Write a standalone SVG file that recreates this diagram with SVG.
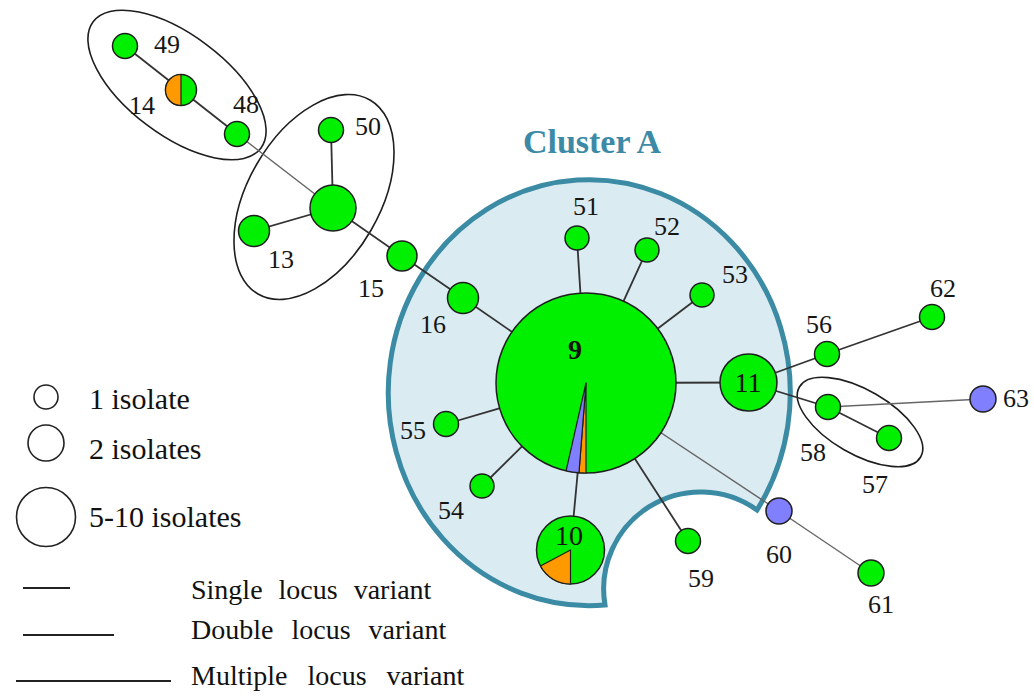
<svg xmlns="http://www.w3.org/2000/svg" width="1034" height="696" viewBox="0 0 1034 696" font-family="'Liberation Serif', serif">
  <style>
    .lbl { font-size: 26px; fill: #161616; }
    .big { font-size: 28px; fill: #111; }
    .leg { fill: #111; }
    .g { fill: #00f000; stroke: #1e1e1e; stroke-width: 1.5; }
    .p { fill: #8080ff; stroke: #1e1e1e; stroke-width: 1.5; }
    .o { fill: #ff9900; stroke: #1e1e1e; stroke-width: 1.2; stroke-linejoin: round; }
    .v { fill: #8080ff; stroke: #1e1e1e; stroke-width: 1.2; stroke-linejoin: round; }
    .e { fill: none; stroke: #1e1e1e; stroke-width: 1.6; }
    .c { stroke: #333; stroke-width: 1.8; fill: none; }
    .t { stroke: #666; stroke-width: 1.4; fill: none; }
    .key { fill: #fff; stroke: #222; stroke-width: 1.6; }
  </style>

  <!-- cluster A background -->
  <g id="clusterA">
    <path d="M605 605 A201 213 0 1 1 757 510 A97 97 0 0 0 605 605 Z" fill="#daebf2" stroke="#3b8ba4" stroke-width="5" stroke-linejoin="miter"/>
    <text x="592" y="153" text-anchor="middle" font-weight="bold" font-size="34" fill="#3d8aa6">Cluster A</text>
  </g>

  <!-- grouping ellipses -->
  <g id="groups">
    <ellipse class="e" cx="177" cy="85" rx="105" ry="50" transform="rotate(37 177 85)"/>
    <ellipse class="e" cx="314" cy="197" rx="112" ry="66" transform="rotate(-60 314 197)"/>
    <ellipse class="e" cx="860" cy="422" rx="70" ry="32" transform="rotate(30 860 422)"/>
  </g>

  <!-- connectors -->
  <g id="connectors">
    <line class="c" x1="125" y1="46" x2="181" y2="90"/>
    <line class="c" x1="181" y1="90" x2="237" y2="134"/>
    <line class="t" x1="237" y1="134" x2="333" y2="208"/>
    <line class="c" x1="333" y1="208" x2="331" y2="130"/>
    <line class="c" x1="333" y1="208" x2="254" y2="231"/>
    <line class="c" x1="333" y1="208" x2="402" y2="256"/>
    <line class="c" x1="402" y1="256" x2="463" y2="298"/>
    <line class="c" x1="463" y1="298" x2="586" y2="383"/>
    <line class="c" x1="586" y1="383" x2="577" y2="238"/>
    <line class="c" x1="586" y1="383" x2="647" y2="250"/>
    <line class="c" x1="586" y1="383" x2="702" y2="295"/>
    <line class="c" x1="586" y1="383" x2="446" y2="424"/>
    <line class="c" x1="586" y1="383" x2="482" y2="486"/>
    <line class="c" x1="586" y1="383" x2="570.5" y2="550"/>
    <line class="c" x1="586" y1="383" x2="688" y2="541"/>
    <line class="c" x1="586" y1="383" x2="748.5" y2="382.5"/>
    <line class="t" x1="586" y1="383" x2="779" y2="511"/>
    <line class="c" x1="748.5" y1="382.5" x2="827" y2="354"/>
    <line class="c" x1="748.5" y1="382.5" x2="828" y2="407"/>
    <line class="c" x1="827" y1="354" x2="932" y2="317"/>
    <line class="c" x1="828" y1="407" x2="889" y2="438"/>
    <line class="t" x1="828" y1="407" x2="983" y2="399"/>
    <line class="t" x1="779" y1="511" x2="871" y2="573"/>
  </g>

  <!-- nodes -->
  <g id="n49"><circle class="g" cx="125" cy="46" r="12.5"/><text class="lbl" x="154" y="53">49</text></g>
  <g id="n14">
    <circle class="g" cx="181" cy="90" r="15.5"/>
    <path class="o" d="M181 74.5 A15.5 15.5 0 0 0 181 105.5 Z"/>
    <text class="lbl" x="129" y="114">14</text>
  </g>
  <g id="n48"><circle class="g" cx="237" cy="134" r="12.5"/><text class="lbl" x="233" y="113">48</text></g>
  <g id="n50"><circle class="g" cx="331" cy="130" r="12.5"/><text class="lbl" x="355" y="135">50</text></g>
  <g id="nHub"><circle class="g" cx="333" cy="208" r="23"/></g>
  <g id="n13"><circle class="g" cx="254" cy="231" r="15.5"/><text class="lbl" x="268" y="268">13</text></g>
  <g id="n15"><circle class="g" cx="402" cy="256" r="15"/><text class="lbl" x="358" y="297">15</text></g>
  <g id="n16"><circle class="g" cx="463" cy="298" r="15.5"/><text class="lbl" x="420" y="333">16</text></g>
  <g id="n51"><circle class="g" cx="577" cy="238" r="12"/><text class="lbl" x="573" y="215">51</text></g>
  <g id="n52"><circle class="g" cx="647" cy="250" r="12"/><text class="lbl" x="654" y="235">52</text></g>
  <g id="n53"><circle class="g" cx="702" cy="295" r="12"/><text class="lbl" x="722" y="283">53</text></g>
  <g id="n55"><circle class="g" cx="446" cy="424" r="12.5"/><text class="lbl" x="400" y="439">55</text></g>
  <g id="n54"><circle class="g" cx="482" cy="486" r="12"/><text class="lbl" x="438" y="519">54</text></g>
  <g id="n9">
    <circle class="g" cx="586" cy="383" r="90"/>
    <path class="o" d="M586 383 L586 473 A90 90 0 0 1 578.94 472.72 Z"/>
    <path class="v" d="M586 383 L578.94 472.72 A90 90 0 0 1 566.07 470.76 Z"/>
    <text class="big" x="575" y="359" text-anchor="middle" font-weight="bold">9</text>
  </g>
  <g id="n10">
    <circle class="g" cx="570.5" cy="550" r="34"/>
    <path class="o" d="M570.5 550 L570.5 584 A34 34 0 0 1 540.5 566 Z"/>
    <text class="big" x="569" y="545" text-anchor="middle">10</text>
  </g>
  <g id="n59"><circle class="g" cx="688" cy="541" r="12.5"/><text class="lbl" x="688" y="587">59</text></g>
  <g id="n11"><circle class="g" cx="748.5" cy="382.5" r="28.5"/><text class="big" x="748" y="392" text-anchor="middle">11</text></g>
  <g id="n56"><circle class="g" cx="827" cy="354" r="12.5"/><text class="lbl" x="806" y="333">56</text></g>
  <g id="n62"><circle class="g" cx="932" cy="317" r="12.5"/><text class="lbl" x="930" y="297">62</text></g>
  <g id="n58"><circle class="g" cx="828" cy="407" r="12.5"/><text class="lbl" x="800" y="461">58</text></g>
  <g id="n57"><circle class="g" cx="889" cy="438" r="12.5"/><text class="lbl" x="862" y="493">57</text></g>
  <g id="n63"><circle class="p" cx="983" cy="399" r="13"/><text class="lbl" x="1003" y="407">63</text></g>
  <g id="n60"><circle class="p" cx="779" cy="511" r="13"/><text class="lbl" x="766" y="563">60</text></g>
  <g id="n61"><circle class="g" cx="871" cy="573" r="13"/><text class="lbl" x="868" y="613">61</text></g>

  <!-- legend -->
  <g id="legend">
    <circle class="key" cx="46" cy="397" r="12"/>
    <circle class="key" cx="46" cy="443" r="18"/>
    <circle class="key" cx="46" cy="517" r="29.5"/>
    <text class="leg" x="89" y="409" font-size="30">1 isolate</text>
    <text class="leg" x="89" y="459" font-size="30">2 isolates</text>
    <text class="leg" x="89" y="527" font-size="30">5-10 isolates</text>
    <line x1="23" y1="588" x2="70" y2="588" stroke="#222" stroke-width="1.8"/>
    <line x1="23" y1="635" x2="114" y2="635" stroke="#222" stroke-width="1.8"/>
    <line x1="16" y1="681" x2="171" y2="681" stroke="#222" stroke-width="1.8"/>
    <text class="leg" x="191" y="599" font-size="28" word-spacing="9">Single locus variant</text>
    <text class="leg" x="191" y="639" font-size="28" word-spacing="11">Double locus variant</text>
    <text class="leg" x="191" y="685" font-size="28" word-spacing="13">Multiple locus variant</text>
  </g>
</svg>
